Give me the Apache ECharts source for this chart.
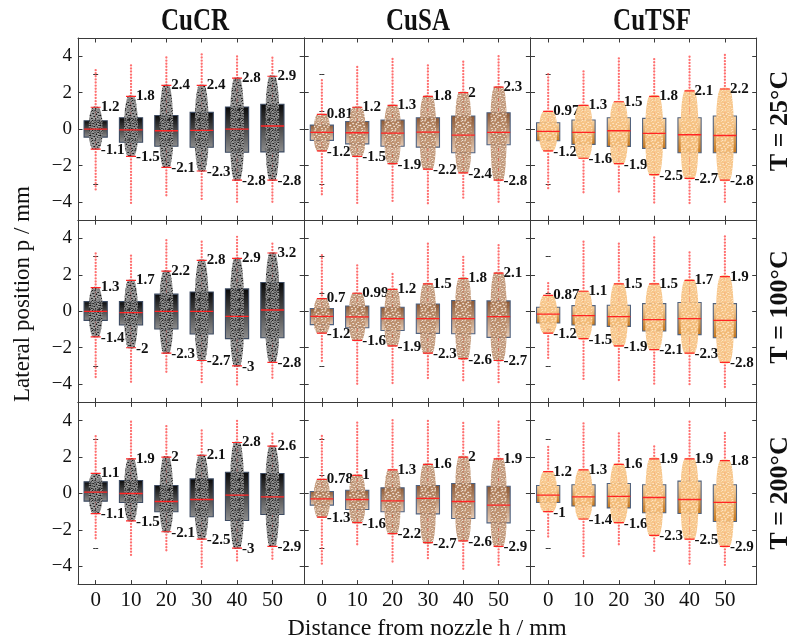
<!DOCTYPE html>
<html>
<head>
<meta charset="utf-8">
<script src="https://cdn.jsdelivr.net/npm/echarts@6/dist/echarts.min.js"></script>
<style>html,body{margin:0;padding:0;background:#fff}#chart{width:795px;height:644px}</style>
</head>
<body>
<div id="chart"></div>
<script>
// ---------- data ----------
const categories = [0, 10, 20, 30, 40, 50];
const materials = ['CuCR', 'CuSA', 'CuTSF'];
const temperatureLabels = ['T = 25°C', 'T = 100°C', 'T = 200°C'];
const yTickValues = [-4, -2, 0, 2, 4];
const yMinorTickValues = [-3, -1, 1, 3];

// 25 °C
const CuCR_25_median = [0.00, -0.04, -0.09, -0.07, 0.00, 0.17];
const CuCR_25_boxLow = [-0.44, -0.72, -0.94, -1.00, -1.27, -1.25];
const CuCR_25_boxHigh = [0.46, 0.62, 0.75, 0.92, 1.21, 1.36];
const CuCR_25_whiskerLow = [-1.1, -1.5, -2.1, -2.3, -2.8, -2.8];
const CuCR_25_whiskerHigh = [1.2, 1.8, 2.4, 2.4, 2.8, 2.9];
const CuCR_25_outlierMin = [-3.34, -4.10, -3.78, -3.89, -4.11, -4.11];
const CuCR_25_outlierMax = [3.38, 3.65, 3.96, 4.15, 4.11, 4.04];

const CuSA_25_median = [-0.18, -0.20, -0.22, -0.17, -0.33, -0.18];
const CuSA_25_boxLow = [-0.62, -0.81, -0.94, -0.99, -1.30, -0.86];
const CuSA_25_boxHigh = [0.22, 0.42, 0.50, 0.62, 0.72, 0.90];
const CuSA_25_whiskerLow = [-1.2, -1.5, -1.9, -2.2, -2.4, -2.8];
const CuSA_25_whiskerHigh = [0.81, 1.2, 1.3, 1.8, 2, 2.3];
const CuSA_25_outlierMin = [-3.69, -4.06, -4.07, -4.15, -3.83, -4.07];
const CuSA_25_outlierMax = [2.72, 3.45, 3.85, 3.54, 3.85, 4.04];

const CuTSF_25_median = [-0.13, -0.18, -0.09, -0.24, -0.31, -0.35];
const CuTSF_25_boxLow = [-0.64, -0.84, -0.95, -1.06, -1.30, -1.30];
const CuTSF_25_boxHigh = [0.35, 0.50, 0.62, 0.59, 0.62, 0.72];
const CuTSF_25_whiskerLow = [-1.2, -1.6, -1.9, -2.5, -2.7, -2.8];
const CuTSF_25_whiskerHigh = [0.97, 1.3, 1.5, 1.8, 2.1, 2.2];
const CuTSF_25_outlierMin = [-3.34, -3.56, -3.56, -4.11, -4.11, -4.11];
const CuTSF_25_outlierMax = [3.17, 3.27, 4.00, 4.00, 4.07, 4.11];

// 100 °C
const CuCR_100_median = [0.00, -0.07, 0.00, 0.00, -0.28, 0.07];
const CuCR_100_boxLow = [-0.50, -0.75, -0.97, -1.25, -1.50, -1.45];
const CuCR_100_boxHigh = [0.53, 0.53, 0.94, 1.06, 1.23, 1.58];
const CuCR_100_whiskerLow = [-1.4, -2, -2.3, -2.7, -3, -2.8];
const CuCR_100_whiskerHigh = [1.3, 1.7, 2.2, 2.8, 2.9, 3.2];
const CuCR_100_outlierMin = [-3.61, -3.94, -3.39, -4.02, -4.13, -3.71];
const CuCR_100_outlierMax = [3.21, 3.21, 3.94, 3.87, 4.09, 3.78];

const CuSA_100_median = [-0.28, -0.31, -0.40, -0.40, -0.40, -0.29];
const CuSA_100_boxLow = [-0.73, -0.90, -1.05, -1.21, -1.23, -1.43];
const CuSA_100_boxHigh = [0.15, 0.29, 0.22, 0.40, 0.59, 0.57];
const CuSA_100_whiskerLow = [-1.2, -1.6, -1.9, -2.3, -2.6, -2.7];
const CuSA_100_whiskerHigh = [0.7, 0.99, 1.2, 1.5, 1.8, 2.1];
const CuSA_100_outlierMin = [-2.79, -4.02, -4.02, -3.71, -3.83, -4.02];
const CuSA_100_outlierMax = [3.17, 2.59, 2.20, 3.85, 3.05, 3.63];

const CuTSF_100_median = [-0.15, -0.24, -0.29, -0.46, -0.40, -0.50];
const CuTSF_100_boxLow = [-0.64, -0.75, -0.83, -1.08, -1.28, -1.45];
const CuTSF_100_boxHigh = [0.22, 0.31, 0.33, 0.42, 0.48, 0.42];
const CuTSF_100_whiskerLow = [-1.2, -1.5, -1.9, -2.1, -2.3, -2.8];
const CuTSF_100_whiskerHigh = [0.87, 1.1, 1.5, 1.5, 1.7, 1.9];
const CuTSF_100_outlierMin = [-2.61, -3.71, -3.91, -4.06, -4.11, -4.17];
const CuTSF_100_outlierMax = [1.65, 3.91, 3.78, 4.09, 3.25, 4.18];

// 200 °C
const CuCR_200_median = [0.07, 0.00, -0.44, -0.33, -0.09, -0.18];
const CuCR_200_boxLow = [-0.42, -0.49, -1.00, -1.28, -1.48, -1.15];
const CuCR_200_boxHigh = [0.64, 0.71, 0.44, 0.80, 1.17, 1.10];
const CuCR_200_whiskerLow = [-1.1, -1.5, -2.1, -2.5, -3, -2.9];
const CuCR_200_whiskerHigh = [1.1, 1.9, 2, 2.1, 2.8, 2.6];
const CuCR_200_outlierMin = [-2.60, -3.51, -3.27, -4.11, -3.80, -3.69];
const CuCR_200_outlierMax = [3.24, 4.02, 3.82, 3.46, 4.06, 3.31];

const CuSA_200_median = [-0.29, -0.33, -0.40, -0.27, -0.44, -0.64];
const CuSA_200_boxLow = [-0.64, -0.88, -1.00, -1.12, -1.37, -1.61];
const CuSA_200_boxHigh = [0.11, 0.18, 0.31, 0.44, 0.55, 0.40];
const CuSA_200_whiskerLow = [-1.3, -1.6, -2.2, -2.7, -2.6, -2.9];
const CuSA_200_whiskerHigh = [0.78, 1, 1.3, 1.6, 2, 1.9];
const CuSA_200_outlierMin = [-3.99, -2.83, -3.84, -3.69, -4.15, -3.93];
const CuSA_200_outlierMax = [3.27, 3.93, 4.04, 4.06, 3.93, 4.04];

const CuTSF_200_median = [-0.09, -0.18, -0.16, -0.22, -0.33, -0.49];
const CuTSF_200_boxLow = [-0.49, -0.69, -0.79, -1.06, -1.10, -1.54];
const CuTSF_200_boxHigh = [0.44, 0.48, 0.55, 0.48, 0.68, 0.48];
const CuTSF_200_whiskerLow = [-1, -1.4, -1.6, -2.3, -2.5, -2.9];
const CuTSF_200_whiskerHigh = [1.2, 1.3, 1.6, 1.9, 1.9, 1.8];
const CuTSF_200_outlierMin = [-2.38, -3.51, -2.83, -3.20, -4.02, -4.02];
const CuTSF_200_outlierMax = [2.61, 4.00, 3.46, 2.71, 3.97, 3.44];

// panels: row = temperature, col = material
const panels = [
  [CuCR_25_median, CuCR_25_boxLow, CuCR_25_boxHigh, CuCR_25_whiskerLow, CuCR_25_whiskerHigh, CuCR_25_outlierMin, CuCR_25_outlierMax],
  [CuSA_25_median, CuSA_25_boxLow, CuSA_25_boxHigh, CuSA_25_whiskerLow, CuSA_25_whiskerHigh, CuSA_25_outlierMin, CuSA_25_outlierMax],
  [CuTSF_25_median, CuTSF_25_boxLow, CuTSF_25_boxHigh, CuTSF_25_whiskerLow, CuTSF_25_whiskerHigh, CuTSF_25_outlierMin, CuTSF_25_outlierMax],
  [CuCR_100_median, CuCR_100_boxLow, CuCR_100_boxHigh, CuCR_100_whiskerLow, CuCR_100_whiskerHigh, CuCR_100_outlierMin, CuCR_100_outlierMax],
  [CuSA_100_median, CuSA_100_boxLow, CuSA_100_boxHigh, CuSA_100_whiskerLow, CuSA_100_whiskerHigh, CuSA_100_outlierMin, CuSA_100_outlierMax],
  [CuTSF_100_median, CuTSF_100_boxLow, CuTSF_100_boxHigh, CuTSF_100_whiskerLow, CuTSF_100_whiskerHigh, CuTSF_100_outlierMin, CuTSF_100_outlierMax],
  [CuCR_200_median, CuCR_200_boxLow, CuCR_200_boxHigh, CuCR_200_whiskerLow, CuCR_200_whiskerHigh, CuCR_200_outlierMin, CuCR_200_outlierMax],
  [CuSA_200_median, CuSA_200_boxLow, CuSA_200_boxHigh, CuSA_200_whiskerLow, CuSA_200_whiskerHigh, CuSA_200_outlierMin, CuSA_200_outlierMax],
  [CuTSF_200_median, CuTSF_200_boxLow, CuTSF_200_boxHigh, CuTSF_200_whiskerLow, CuTSF_200_whiskerHigh, CuTSF_200_outlierMin, CuTSF_200_outlierMax]
];

// ---------- styling ----------
const FONT = '"Liberation Serif", "Times New Roman", Times, serif';
const gridLefts = [78, 304.2, 530.5];
const gridTops = [38, 220.2, 402.4];
const gridW = 226.2, gridH = 182.2;
const axisColor = '#3a3a3a';

// irregular speckle texture tile (pure styling)
const speckle = [[1.4, 1.1], [5.0, 0.7], [8.1, 2.4], [3.1, 3.6], [6.5, 4.3], [0.5, 5.4], [4.2, 6.6], [7.8, 7.1], [1.9, 8.4], [5.7, 8.9], [9.0, 5.5], [2.6, 0.2]];
function makePattern(bg, fill, stroke, r) {
  const c = document.createElement('canvas');
  c.width = 10; c.height = 10;
  const g = c.getContext('2d');
  if (bg) { g.fillStyle = bg; g.fillRect(0, 0, 10, 10); }
  speckle.forEach(p => {
    g.beginPath();
    g.arc(p[0], p[1], r, 0, Math.PI * 2);
    g.fillStyle = fill; g.fill();
    if (stroke) { g.lineWidth = 0.6; g.strokeStyle = stroke; g.stroke(); }
  });
  return c;
}

const materialStyles = [
  { top: '#080808', bottom: '#8e8e8e', border: '#3d4b62', cloudHalf: 6.5, endFactor: 0.5,
    pattern: makePattern('rgba(35,35,35,0.6)', '#111111', '#e6e6e6', 1.25) },
  { top: '#8a5632', bottom: '#e8cdb6', border: '#4f6280', cloudHalf: 7.8, endFactor: 0.6,
    pattern: makePattern('rgba(196,146,110,0.6)', '#f4e8dc', '#a0683f', 1.25) },
  { top: '#fbd8aa', bottom: '#c4761c', border: '#52627c', cloudHalf: 8.5, endFactor: 0.6,
    pattern: makePattern('rgba(248,198,138,0.8)', '#fee6c6', '#f4b468', 1.25) }
];

function makeRender(st) {
  return function (params, api) {
    const x = api.value(0);
    const med = api.value(1), lo = api.value(2), hi = api.value(3);
    const wl = api.value(4), wh = api.value(5), ol = api.value(6), oh = api.value(7);
    const cx = api.coord([x, 0])[0];
    const Y = v => api.coord([x, v])[1];
    const bw = 11.6, cap = 5, cw = st.cloudHalf, ef = st.endFactor;
    const red = '#ff2424';
    const ch = [];
    const outStyle = { stroke: '#ff4040', lineWidth: 2.3, lineDash: [0.1, 3.0], lineCap: 'round', opacity: 0.75 };
    ch.push({ type: 'line', shape: { x1: cx, y1: Y(wh) - 3, x2: cx, y2: Y(oh) }, style: outStyle });
    ch.push({ type: 'line', shape: { x1: cx, y1: Y(wl) + 3, x2: cx, y2: Y(ol) }, style: outStyle });
    // whiskers
    ch.push({ type: 'line', shape: { x1: cx, y1: Y(hi), x2: cx, y2: Y(wh) }, style: { stroke: red, lineWidth: 1 } });
    ch.push({ type: 'line', shape: { x1: cx, y1: Y(lo), x2: cx, y2: Y(wl) }, style: { stroke: red, lineWidth: 1 } });
    // box
    ch.push({ type: 'rect', shape: { x: cx - bw, y: Y(hi), width: 2 * bw, height: Y(lo) - Y(hi) },
      style: { fill: new echarts.graphic.LinearGradient(0, 0, 0, 1, [{ offset: 0, color: st.top }, { offset: 1, color: st.bottom }]),
        stroke: st.border, lineWidth: 1.1 } });
    // point cloud
    const yH = Y(wh), yL = Y(wl), y3 = Y(hi), y1 = Y(lo);
    ch.push({ type: 'polygon', shape: { smooth: 0.25, points: [
        [cx - cw * ef, yH], [cx + cw * ef, yH], [cx + cw, y3 - (y3 - yH) * 0.15], [cx + cw, y1 + (yL - y1) * 0.15],
        [cx + cw * ef, yL], [cx - cw * ef, yL], [cx - cw, y1 + (yL - y1) * 0.15], [cx - cw, y3 - (y3 - yH) * 0.15]] },
      style: { fill: { image: st.pattern, repeat: 'repeat' } } });
    // median
    ch.push({ type: 'line', shape: { x1: cx - bw, y1: Y(med), x2: cx + bw, y2: Y(med) }, style: { stroke: red, lineWidth: 1.3 } });
    // caps
    ch.push({ type: 'line', shape: { x1: cx - cap, y1: yH, x2: cx + cap, y2: yH }, style: { stroke: red, lineWidth: 1.2 } });
    ch.push({ type: 'line', shape: { x1: cx - cap, y1: yL, x2: cx + cap, y2: yL }, style: { stroke: red, lineWidth: 1.2 } });
    // labels
    ch.push({ type: 'text', x: cx + 5, y: yH, style: { text: String(wh), font: 'bold 15px ' + FONT, fill: '#111', align: 'left', verticalAlign: 'middle' } });
    ch.push({ type: 'text', x: cx + 5, y: yL + 1, style: { text: String(wl), font: 'bold 15px ' + FONT, fill: '#111', align: 'left', verticalAlign: 'middle' } });
    return { type: 'group', children: ch };
  };
}

const grids = [], xAxes = [], yAxes = [], series = [];
const fmtY = v => (v < 0 ? '\u2212' + Math.abs(v) : String(v));
for (let r = 0; r < 3; r++) {
  for (let c = 0; c < 3; c++) {
    const i = r * 3 + c;
    grids.push({ left: gridLefts[c], top: gridTops[r], width: gridW, height: gridH, containLabel: false });
    const xBase = { type: 'value', gridIndex: i, min: -5, max: 59, splitLine: { show: false },
      axisLine: { show: true, onZero: false, lineStyle: { color: axisColor, width: 1 } } };
    xAxes.push(Object.assign({}, xBase, { position: 'bottom',
      axisTick: { show: true, inside: true, length: 4.5, customValues: categories, lineStyle: { color: axisColor } },
      axisLabel: { show: r === 2, customValues: categories, fontFamily: FONT, fontSize: 21, color: '#111', margin: 5 } }));
    xAxes.push(Object.assign({}, xBase, { position: 'top',
      axisTick: { show: true, inside: true, length: 4.5, customValues: categories, lineStyle: { color: axisColor } },
      axisLabel: { show: false } }));
    const yBase = { type: 'value', gridIndex: i, min: -5, max: 5, splitLine: { show: false } };
    ['left', 'right'].forEach(pos => {
      yAxes.push(Object.assign({}, yBase, { position: pos,
        axisLine: { show: true, onZero: false, lineStyle: { color: axisColor, width: 1 } },
        axisTick: { show: true, inside: true, length: 4.5, customValues: yTickValues, lineStyle: { color: axisColor } },
        axisLabel: { show: pos === 'left' && c === 0, customValues: yTickValues, formatter: fmtY,
          fontFamily: FONT, fontSize: 19, color: '#111', margin: 6 } }));
      yAxes.push(Object.assign({}, yBase, { position: pos,
        axisLine: { show: false },
        axisTick: { show: true, inside: true, length: 2.5, customValues: yMinorTickValues, lineStyle: { color: axisColor } },
        axisLabel: { show: false } }));
    });
    const p = panels[i];
    series.push({
      type: 'custom', xAxisIndex: 2 * i, yAxisIndex: 4 * i, clip: true,
      renderItem: makeRender(materialStyles[c]),
      encode: { x: 0, y: [1, 2, 3, 4, 5, 6, 7] },
      data: categories.map((h, k) => [h, p[0][k], p[1][k], p[2][k], p[3][k], p[4][k], p[5][k], p[6][k]])
    });
  }
}

const graphics = [];
const colTitleX = [195, 418, 652];
materials.forEach((m, c) => graphics.push({ type: 'text', x: colTitleX[c], y: 22, scaleY: 1.3,
  style: { text: m, font: 'bold 25px ' + FONT, fill: '#111', align: 'center', verticalAlign: 'middle' } }));
const rowTitleY = [121, 307, 493];
temperatureLabels.forEach((t, r) => graphics.push({ type: 'text', x: 780, y: rowTitleY[r], rotation: Math.PI / 2,
  style: { text: t, font: 'bold 26px ' + FONT, fill: '#111', align: 'center', verticalAlign: 'middle' } }));
graphics.push({ type: 'text', x: 23, y: 294, rotation: Math.PI / 2,
  style: { text: 'Lateral position p / mm', font: '23px ' + FONT, fill: '#111', align: 'center', verticalAlign: 'middle' } });
graphics.push({ type: 'text', x: 427, y: 629,
  style: { text: 'Distance from nozzle h / mm', font: '24px ' + FONT, fill: '#111', align: 'center', verticalAlign: 'middle' } });

const chart = echarts.init(document.getElementById('chart'), null, { renderer: 'canvas' });
chart.setOption({
  animation: false,
  backgroundColor: '#ffffff',
  grid: grids,
  xAxis: xAxes,
  yAxis: yAxes,
  series: series,
  graphic: graphics
});
</script>
</body>
</html>
